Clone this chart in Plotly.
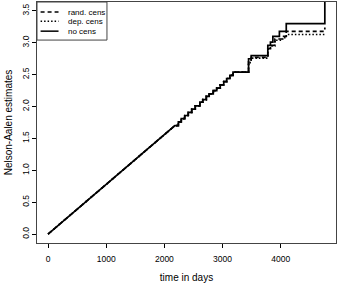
import plotly.graph_objects as go

# Early (near-linear) part, shared by all series
early_t = [0, 2180]
early_v = [0.0, 1.70]

# Step times/values (value after the jump)
common_t = [2240, 2290, 2350, 2410, 2470, 2530, 2610, 2660, 2720, 2770, 2840,
            2900, 2960, 3020, 3070, 3125, 3180]
common_v = [1.76, 1.81, 1.86, 1.91, 1.96, 2.01, 2.07, 2.11, 2.16, 2.20, 2.25,
            2.29, 2.34, 2.39, 2.44, 2.49, 2.54]

nocens_t = [3447, 3492, 3778, 3823, 3865, 3977, 4095, 4758]
nocens_v = [2.75, 2.80, 2.96, 3.01, 3.10, 3.18, 3.30, 4.20]

rand_t = [3447, 3492, 3778, 3823, 3900, 4034, 4095, 4758]
rand_v = [2.70, 2.77, 2.91, 2.96, 3.06, 3.10, 3.18, 3.24]

dep_t = [3447, 3492, 3778, 3823, 3900, 4034, 4095, 4758]
dep_v = [2.69, 2.76, 2.90, 2.95, 3.04, 3.08, 3.13, 3.13]

x_ticks = [0, 1000, 2000, 3000, 4000]
y_ticks = [0.0, 0.5, 1.0, 1.5, 2.0, 2.5, 3.0, 3.5]


def path(times, vals):
    xs = list(early_t)
    ys = list(early_v)
    prev = ys[-1]
    for t, v in zip(common_t + times, common_v + vals):
        xs += [t, t]
        ys += [prev, v]
        prev = v
    return xs, ys


series = [
    ("rand. cens", rand_t, rand_v, "4px,3px"),
    ("dep. cens", dep_t, dep_v, "1.5px,2px"),
    ("no cens", nocens_t, nocens_v, "solid"),
]

fig = go.Figure()
for name, t, v, dash in series:
    xs, ys = path(t, v)
    fig.add_trace(go.Scatter(x=xs, y=ys, mode="lines", name=name, showlegend=False,
                             line=dict(color="black", width=1.7, dash=dash)))

# Hand-drawn legend (R-style compact box, top-left)
shapes = [dict(type="rect", xref="paper", yref="paper", x0=0, x1=0.234, y0=0.842, y1=1,
               line=dict(color="#444", width=1), fillcolor="white", layer="above")]
annotations = []
row_y = [0.958, 0.920, 0.879]
for (name, _, _, dash), ry in zip(series, row_y):
    shapes.append(dict(type="line", xref="paper", yref="paper", x0=0.012, x1=0.072,
                       y0=ry, y1=ry, line=dict(color="black", width=1.5, dash=dash),
                       layer="above"))
    annotations.append(dict(xref="paper", yref="paper", x=0.098, y=ry, text=name,
                            showarrow=False, xanchor="left", yanchor="middle",
                            font=dict(size=8)))

font = dict(family="Liberation Sans, Arial, sans-serif", size=8.5, color="black")
fig.update_layout(
    width=340, height=283,
    margin=dict(l=37, r=4, t=2, b=40),
    paper_bgcolor="white", plot_bgcolor="white",
    font=font,
    showlegend=False,
    shapes=shapes,
    annotations=annotations,
    xaxis=dict(range=[-190, 4950], tickvals=x_ticks, ticktext=[str(v) for v in x_ticks],
               ticks="outside", ticklen=4, tickcolor="black", ticklabelstandoff=4,
               showline=True, linecolor="#444", linewidth=1, mirror=True,
               showgrid=False, zeroline=False,
               title=dict(text="time in days", standoff=10)),
    yaxis=dict(range=[-0.14, 3.64], tickvals=y_ticks, ticktext=[f"{v:.1f}" for v in y_ticks],
               tickangle=-90, ticks="outside", ticklen=4, tickcolor="black",
               showline=True, linecolor="#444", linewidth=1, mirror=True,
               showgrid=False, zeroline=False,
               title=dict(text="Nelson-Aalen estimates", standoff=6)),
)

fig.write_html("out.html")
